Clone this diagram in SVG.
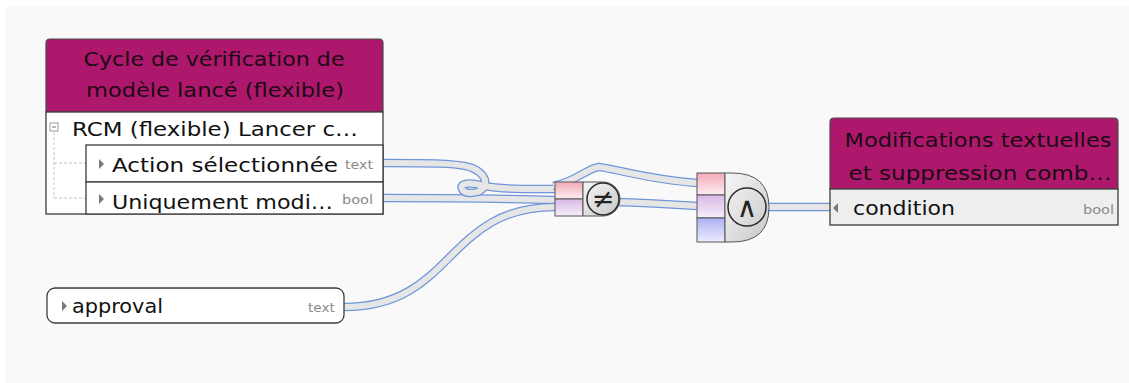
<svg xmlns="http://www.w3.org/2000/svg" width="1129" height="383" viewBox="0 0 1129 383">
<defs>
<linearGradient id="gPink" x1="0" y1="0" x2="0" y2="1"><stop offset="0" stop-color="#f3a9b8"/><stop offset="1" stop-color="#fdeef1"/></linearGradient>
<linearGradient id="gLav" x1="0" y1="0" x2="0" y2="1"><stop offset="0" stop-color="#d9b8e6"/><stop offset="1" stop-color="#f6eefa"/></linearGradient>
<linearGradient id="gBlue" x1="0" y1="0" x2="0" y2="1"><stop offset="0" stop-color="#aeb0f2"/><stop offset="1" stop-color="#ececff"/></linearGradient>
<linearGradient id="gGray" x1="0" y1="0" x2="1" y2="1"><stop offset="0" stop-color="#f6f6f6"/><stop offset="1" stop-color="#c8c8c8"/></linearGradient>
</defs>
<style>
.bg{fill:#f9f9f9}
.hdr{fill:#ae186c;stroke:#4a4a4a;stroke-width:1.2}
.box{fill:#ffffff;stroke:#3c3c3c;stroke-width:1.3}
.rowg{fill:#eeeeee;stroke:#3c3c3c;stroke-width:1.3}
.t{font-family:"DejaVu Sans",sans-serif;font-size:20px;fill:#111}
.h{font-family:"DejaVu Sans",sans-serif;font-size:20px;fill:#1a0a14;text-anchor:middle}
.ty{font-family:"DejaVu Sans",sans-serif;font-size:13px;fill:#8a8a8a}
.tree{stroke:#c4c4c4;stroke-width:1;stroke-dasharray:3,2;fill:none}
.tri{fill:#7a7a7a}
.wo{fill:none;stroke:#6f95da;stroke-width:8.5}
.wi{fill:none;stroke:#e6e6e6;stroke-width:6}
.port{stroke:#555;stroke-width:1}
.body{fill:url(#gGray);stroke:#555;stroke-width:1}
.ring{fill:none;stroke:#2a2a2a;stroke-width:1.5}
.sym{font-family:"DejaVu Sans",sans-serif;fill:#222;text-anchor:middle}
</style>
<rect x="0" y="0" width="1129" height="383" fill="#ffffff"/>
<rect class="bg" x="5" y="6" width="1124" height="377"/>

<g id="connectors">
<path class="wo" d="M383,198 C500,198 600,200 697,206"/>
<path class="wi" d="M383,198 C500,198 600,200 697,206"/>
<path class="wo" d="M383,163 C430,163 460,163 472,168 C482,172 488,180 484,187 C480,194 465,195 462,189 C459,183 470,182 484,186 C505,190 532,189 555,189"/>
<path class="wi" d="M383,163 C430,163 460,163 472,168 C482,172 488,180 484,187 C480,194 465,195 462,189 C459,183 470,182 484,186 C505,190 532,189 555,189"/>
<path class="wo" d="M344,307 C455,307 445,207 555,207"/>
<path class="wi" d="M344,307 C455,307 445,207 555,207"/>
<path class="wo" d="M553,186 C575,182 588,168 599,167 C612,168 650,180 697,183"/>
<path class="wi" d="M553,186 C575,182 588,168 599,167 C612,168 650,180 697,183"/>
<path class="wo" d="M768,207 L830,207"/>
<path class="wi" d="M768,207 L830,207"/>
</g>

<g id="node-cycle">
<path class="hdr" d="M46,112 V43 Q46,39 50,39 H379 Q383,39 383,43 V112 Z"/>
<text class="h" x="214" y="66" textLength="261" lengthAdjust="spacingAndGlyphs">Cycle de vérification de</text>
<text class="h" x="215" y="97" textLength="258" lengthAdjust="spacingAndGlyphs">modèle lancé (flexible)</text>
<rect class="box" x="46" y="112" width="337" height="102"/>
<rect x="50" y="123" width="8" height="8" fill="#fff" stroke="#9a9a9a" stroke-width="1"/>
<line x1="52" y1="127" x2="56" y2="127" stroke="#777" stroke-width="1"/>
<text class="t" x="72" y="136" textLength="286" lengthAdjust="spacingAndGlyphs">RCM (flexible) Lancer c…</text>
<path class="tree" d="M54,132 V198 M54,163 H86 M54,198 H86"/>
<rect class="box" x="86" y="145" width="297" height="37"/>
<rect class="box" x="86" y="182" width="297" height="32"/>
<path class="tri" d="M99,159 L104,164 L99,169 Z"/>
<text class="t" x="112" y="172" textLength="226" lengthAdjust="spacingAndGlyphs">Action sélectionnée</text>
<text class="ty" x="345" y="169" textLength="28" lengthAdjust="spacingAndGlyphs">text</text>
<path class="tri" d="M99,194 L104,199 L99,204 Z"/>
<text class="t" x="112" y="209" textLength="221" lengthAdjust="spacingAndGlyphs">Uniquement modi…</text>
<text class="ty" x="342" y="204" textLength="31" lengthAdjust="spacingAndGlyphs">bool</text>
</g>

<g id="node-approval">
<rect class="box" x="47" y="288" width="297" height="35" rx="8" ry="8"/>
<path class="tri" d="M62,301 L67,306 L62,311 Z"/>
<text class="t" x="72" y="313" textLength="91" lengthAdjust="spacingAndGlyphs">approval</text>
<text class="ty" x="308" y="312" textLength="27" lengthAdjust="spacingAndGlyphs">text</text>
</g>

<g id="node-neq">
<rect class="port" x="555" y="182" width="28" height="17" fill="url(#gPink)"/>
<rect class="port" x="555" y="199" width="28" height="17" fill="url(#gLav)"/>
<path class="body" d="M583,182 H603 A17,17 0 0 1 603,216 H583 Z"/>
<circle class="ring" cx="603" cy="199" r="16"/>
<text class="sym" x="603" y="208" font-size="27">≠</text>
</g>

<g id="node-and">
<rect class="port" x="697" y="173" width="28" height="22" fill="url(#gPink)"/>
<rect class="port" x="697" y="195" width="28" height="23" fill="url(#gLav)"/>
<rect class="port" x="697" y="218" width="28" height="24" fill="url(#gBlue)"/>
<path class="body" d="M725,173 H732 Q769,173 769,207.5 Q769,242 732,242 H725 Z"/>
<circle class="ring" cx="747" cy="207" r="19"/>
<text class="sym" x="747" y="217" font-size="28">∧</text>
</g>

<g id="node-target">
<path class="hdr" d="M830,189 V122 Q830,118 834,118 H1114 Q1118,118 1118,122 V189 Z"/>
<text class="h" x="978" y="147" textLength="267" lengthAdjust="spacingAndGlyphs">Modifications textuelles</text>
<text class="h" x="980" y="180" textLength="263" lengthAdjust="spacingAndGlyphs">et suppression comb…</text>
<rect class="rowg" x="830" y="189" width="288" height="36"/>
<path class="tri" d="M838,203 L833,208 L838,213 Z" fill="#8a8a8a"/>
<text class="t" x="853" y="215" textLength="102" lengthAdjust="spacingAndGlyphs">condition</text>
<text class="ty" x="1083" y="214" textLength="31" lengthAdjust="spacingAndGlyphs">bool</text>
</g>
</svg>
